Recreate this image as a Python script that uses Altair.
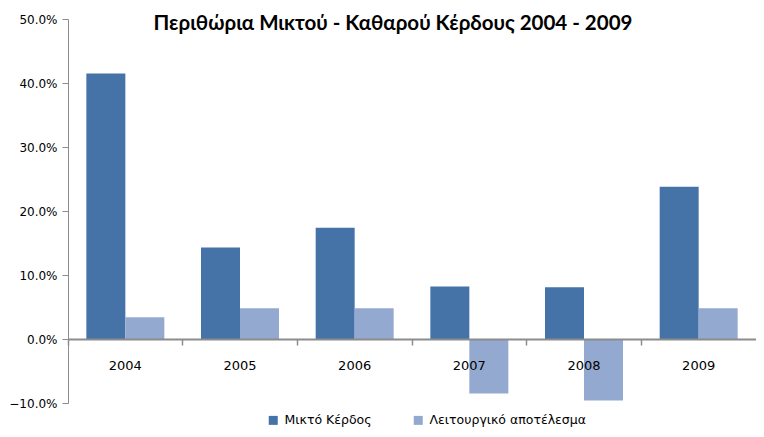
import altair as alt
import pandas as pd

years = ["2004", "2005", "2006", "2007", "2008", "2009"]
series_names = ["Μικτό Κέρδος", "Λειτουργικό αποτέλεσμα"]
gross = [0.415, 0.143, 0.174, 0.082, 0.081, 0.238]
operating = [0.034, 0.048, 0.048, -0.085, -0.096, 0.048]
title_text = "Περιθώρια Μικτού - Καθαρού Κέρδους 2004 - 2009"
y_ticks = [-0.1, 0.0, 0.1, 0.2, 0.3, 0.4, 0.5]
colors = ["#4573A7", "#94A9CF"]

rows = []
for i, y in enumerate(years):
    rows.append({"year": y, "series": series_names[0], "value": gross[i]})
    rows.append({"year": y, "series": series_names[1], "value": operating[i]})
df = pd.DataFrame(rows)

AXFONT = "DejaVu Sans"
W, H = 688, 384

bars = alt.Chart(df).mark_bar(size=39).encode(
    x=alt.X("year:N", sort=years, title=None,
            scale=alt.Scale(paddingInner=0.32, paddingOuter=0.16),
            axis=alt.Axis(offset=-64, bandPosition=-0.235, labelAngle=0, zindex=1,
                          domainColor="#8c8c8c", domainWidth=2, tickColor="#8c8c8c",
                          tickWidth=1.5, tickSize=6, labelPadding=14,
                          labelFont=AXFONT, labelFontSize=13, labelColor="#000")),
    xOffset=alt.XOffset("series:N", sort=series_names, scale=alt.Scale(paddingInner=0, paddingOuter=0)),
    y=alt.Y("value:Q", title=None,
            scale=alt.Scale(domain=[-0.1, 0.5], nice=False, zero=False),
            axis=alt.Axis(values=y_ticks, format=".1%", grid=False,
                          domainColor="#8c8c8c", tickColor="#8c8c8c", tickSize=6,
                          labelPadding=5, labelFont=AXFONT, labelFontSize=12,
                          labelColor="#000")),
    color=alt.Color("series:N", sort=series_names,
                    scale=alt.Scale(domain=series_names, range=colors),
                    legend=alt.Legend(title=None, orient="none", legendX=199, legendY=395,
                                      direction="horizontal", symbolType="square",
                                      symbolSize=81, symbolStrokeWidth=0,
                                      labelFont=AXFONT, labelFontSize=12.5, labelColor="#000",
                                      columnPadding=40, labelOffset=5)),
)

title = alt.Chart(pd.DataFrame({"t": [title_text]})).mark_text(
    font="Lato", fontSize=20.5, fontWeight="bold", color="#000", align="center", baseline="middle"
).encode(x=alt.value(325), y=alt.value(5), text="t:N")

chart = alt.layer(bars, title).properties(
    width=W, height=H,
    autosize=alt.AutoSizeParams(type="none"),
    padding={"left": 60, "top": 11, "right": 0, "bottom": 26},
).configure_view(stroke=None)

chart.save("out.html", embed_options={"renderer": "svg", "actions": False})
